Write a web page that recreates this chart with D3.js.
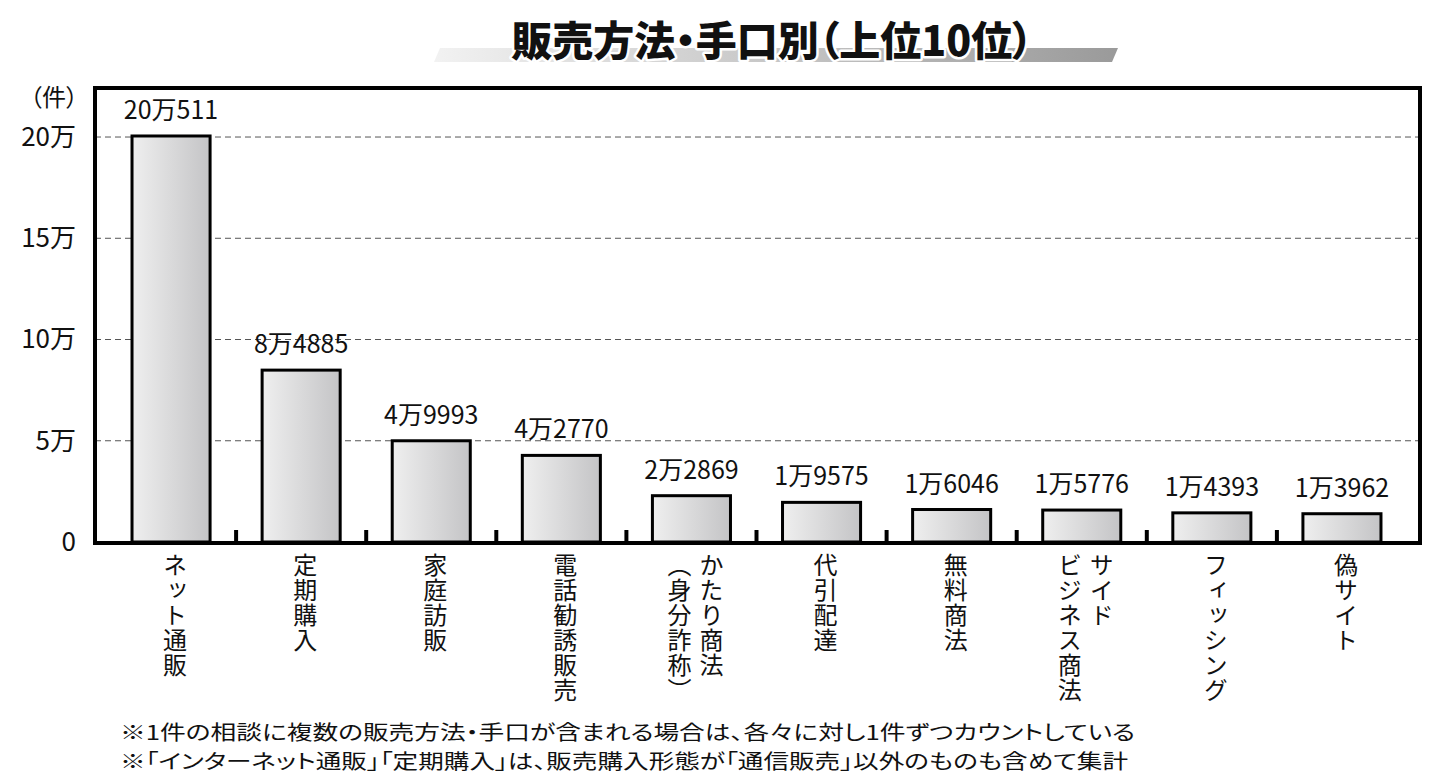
<!DOCTYPE html>
<html><head><meta charset="utf-8">
<script src="https://cdn.jsdelivr.net/npm/d3@7"></script>
<style>
body{margin:0;background:#fff;}
text{font-family:"Noto Sans CJK JP","Noto Sans",sans-serif;font-feature-settings:"palt";}
</style></head>
<body><svg id="chart" width="1429" height="782"></svg>
<script>
const categories = [["ネット通販"],["定期購入"],["家庭訪販"],["電話勧誘販売"],["かたり商法","（身分詐称）"],["代引配達"],["無料商法"],["サイド","ビジネス商法"],["フィッシング"],["偽サイト"]];
const values = [200511,84885,49993,42770,22869,19575,16046,15776,14393,13962];
const valueLabels = ["20万511","8万4885","4万9993","4万2770","2万2869","1万9575","1万6046","1万5776","1万4393","1万3962"];
const tickValues = [0,50000,100000,150000,200000];
const tickLabels = ["0","5万","10万","15万","20万"];
const title = "販売方法・手口別（上位10位）";
const notes = ["※1件の相談に複数の販売方法・手口が含まれる場合は、各々に対し1件ずつカウントしている","※「インターネット通販」「定期購入」は、販売購入形態が「通信販売」以外のものも含めて集計"];

const svg = d3.select("#chart");
const frame = {l:95,r:1420,t:88,b:543};
const y = d3.scaleLinear().domain([0,225000]).range([542,86.4]);
const x = d3.scaleBand().domain(d3.range(categories.length)).range([106,1407]).paddingInner(0.4).paddingOuter(0.2);

const defs = svg.append("defs");
const g1 = defs.append("linearGradient").attr("id","barg").attr("x1","0").attr("x2","1").attr("y1","0").attr("y2","0");
g1.append("stop").attr("offset","0").attr("stop-color","#efefef");
g1.append("stop").attr("offset","1").attr("stop-color","#c4c4c6");
const g2 = defs.append("linearGradient").attr("id","titleg").attr("x1","0").attr("x2","1");
g2.append("stop").attr("offset","0").attr("stop-color","#f2f2f2");
g2.append("stop").attr("offset","1").attr("stop-color","#9a9a9a");

// title band
svg.append("path").attr("d","M440,48 L1118,48 L1112,62 L434,62 Z").attr("fill","url(#titleg)");
svg.append("text").attr("x",772).attr("y",56).attr("text-anchor","middle")
  .attr("font-size",41).attr("font-weight",900).attr("fill","#111")
  .attr("stroke","#fff").attr("stroke-width",5).attr("paint-order","stroke").attr("stroke-linejoin","round")
  .text(title);

// gridlines
svg.append("g").selectAll("line").data(tickValues.filter(d=>d>0)).join("line")
  .attr("x1",frame.l).attr("x2",frame.r).attr("y1",d=>y(d)).attr("y2",d=>y(d))
  .attr("stroke","#555").attr("stroke-width",1).attr("stroke-dasharray","6,4");

// y axis labels
const yAxis = d3.axisLeft(y).tickValues(tickValues).tickFormat((d,i)=>tickLabels[i]).tickSize(0).tickPadding(0);
const ya = svg.append("g").attr("transform","translate(76,0)").call(yAxis);
ya.select(".domain").remove();
ya.selectAll("text").attr("font-size",26).attr("fill","#111").attr("font-family","'Noto Sans CJK JP',sans-serif");
svg.append("text").attr("x",78).attr("y",106).attr("text-anchor","end").attr("font-size",24).attr("fill","#111").text("（件）");

// bars
svg.append("g").selectAll("rect").data(values).join("rect")
  .attr("x",(d,i)=>x(i)).attr("width",x.bandwidth())
  .attr("y",d=>y(d)).attr("height",d=>y(0)-y(d))
  .attr("fill","url(#barg)").attr("stroke","#000").attr("stroke-width",3);

// value labels
svg.append("g").selectAll("text").data(values).join("text")
  .attr("x",(d,i)=>x(i)+x.bandwidth()/2).attr("y",d=>y(d)-17)
  .attr("text-anchor","middle").attr("font-size",25).attr("fill","#111")
  .text((d,i)=>valueLabels[i]);

// separator ticks
const step = x.step();
svg.append("g").selectAll("line").data(d3.range(1,categories.length)).join("line")
  .attr("x1",i=>x(i)-x.paddingInner()*step/2).attr("x2",i=>x(i)-x.paddingInner()*step/2)
  .attr("y1",y(0)).attr("y2",y(0)-12).attr("stroke","#000").attr("stroke-width",4);

// frame
svg.append("rect").attr("x",frame.l).attr("y",frame.t).attr("width",frame.r-frame.l).attr("height",frame.b-frame.t)
  .attr("fill","none").attr("stroke","#000").attr("stroke-width",4);

// category labels (vertical)
const cg = svg.append("g");
categories.forEach((lines,i)=>{
  const cx = x(i)+x.bandwidth()/2;
  const n = lines.length, gap = 32;
  lines.forEach((t,j)=>{
    const lx = cx + ((n-1)/2 - j)*gap;
    cg.append("text").attr("x",lx).attr("y",553)
      .attr("writing-mode","vertical-rl").attr("text-orientation","upright")
      .attr("font-size",24).attr("letter-spacing",1).attr("fill","#111")
      .attr("dominant-baseline","middle")
      .style("font-feature-settings","normal")
      .text(t);
  });
});

// notes
svg.append("g").selectAll("text").data(notes).join("text")
  .attr("x",120).attr("y",(d,i)=>740+i*29).attr("font-size",20).attr("fill","#111")
  .attr("textLength",(d,i)=>i===0?1015:1008).attr("lengthAdjust","spacingAndGlyphs")
  .text(d=>d);
</script></body></html>
